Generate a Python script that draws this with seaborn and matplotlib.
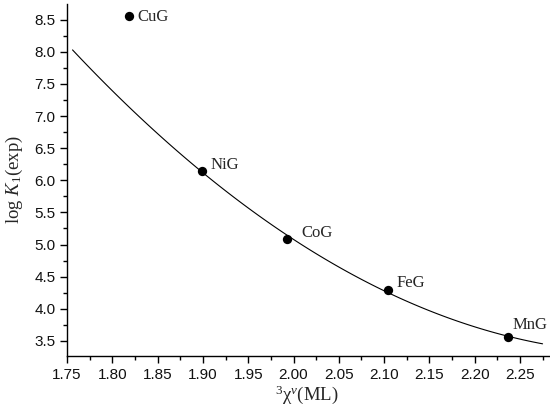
import numpy as np
import pandas as pd
import matplotlib
matplotlib.use('Agg')
import matplotlib.pyplot as plt
from matplotlib.ticker import MultipleLocator
import seaborn as sns

# complexes and their values
complexes = ['CuG', 'NiG', 'CoG', 'FeG', 'MnG']
chi_ml = [1.818, 1.899, 1.993, 2.104, 2.237]
log_k1 = [8.56, 6.15, 5.09, 4.30, 3.56]
# CuG is left out of the fitted curve
fit_mask = [False, True, True, True, True]

# label offsets in points (style only)
label_offsets = [(6, -1), (6, 4), (10, 4), (6, 5), (3, 9)]


def main():
    sns.set_theme(style='ticks')
    plt.rcParams['font.family'] = ['Liberation Sans', 'DejaVu Sans']
    plt.rcParams['mathtext.fontset'] = 'custom'
    plt.rcParams['mathtext.rm'] = 'Liberation Serif'
    plt.rcParams['mathtext.it'] = 'Liberation Serif:italic'

    df = pd.DataFrame({'complex': complexes, 'chi': chi_ml, 'logk': log_k1})
    fit_df = df[fit_mask]

    fig = plt.figure(figsize=(5.5, 4.19), dpi=100)
    ax = fig.add_axes([0.122, 0.151, 0.876, 0.839])

    # second order fit drawn over the range of the original curve
    ax.set_xlim(1.756, 2.275)
    sns.regplot(data=fit_df, x='chi', y='logk', order=2, ci=None,
                scatter=False, truncate=False, ax=ax,
                line_kws={'color': 'black', 'lw': 0.8})

    sns.scatterplot(data=df, x='chi', y='logk', ax=ax, color='black',
                    s=45, edgecolor='black', linewidth=0, zorder=3)

    for name, x, y, off in zip(complexes, chi_ml, log_k1, label_offsets):
        ax.annotate(name, (x, y), xytext=off, textcoords='offset points',
                    ha='left', va='center', fontsize=12,
                    family='Liberation Serif')

    ax.set_xlim(1.75, 2.282)
    ax.set_ylim(3.27, 8.74)
    ax.xaxis.set_major_locator(MultipleLocator(0.05))
    ax.xaxis.set_minor_locator(MultipleLocator(0.025))
    ax.yaxis.set_major_locator(MultipleLocator(0.5))
    ax.yaxis.set_minor_locator(MultipleLocator(0.25))
    ax.xaxis.set_major_formatter(lambda v, p: f'{v:.2f}')
    ax.yaxis.set_major_formatter(lambda v, p: f'{v:.1f}')

    ax.tick_params(which='major', direction='out', length=5, width=1,
                   color='black', labelsize=11, labelcolor='#111111')
    ax.tick_params(which='minor', direction='out', length=3, width=1,
                   color='black')
    sns.despine(ax=ax)
    for side in ['left', 'bottom']:
        ax.spines[side].set_linewidth(1)
        ax.spines[side].set_color('black')

    ax.set_xlabel(r'${}^{3}\mathrm{χ}^{v}$(ML)', fontsize=13.5,
                  family='Liberation Serif')
    ax.set_ylabel(r'log $K_{\rm 1}$(exp)', fontsize=13.5,
                  family='Liberation Serif')
    ax.xaxis.set_label_coords(0.497, -0.08)
    ax.yaxis.set_label_coords(-0.088, 0.5)

    fig.savefig('out.png', dpi=100)


if __name__ == '__main__':
    main()
